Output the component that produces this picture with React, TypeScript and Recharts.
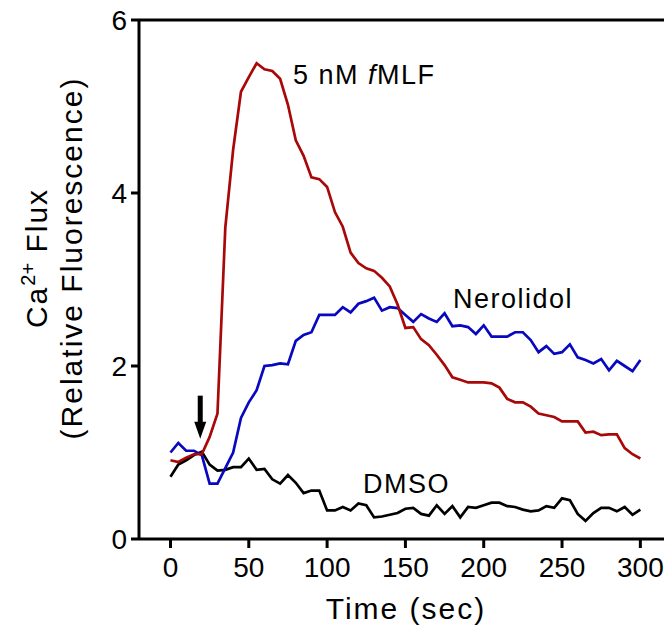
import { LineChart, Line, XAxis, YAxis, ReferenceLine, ReferenceDot, Label } from "recharts"

const time = [
  0, 5, 10, 15, 20, 25, 30, 35, 40, 45, 50, 55, 60, 65, 70, 75, 80, 85, 90, 95,
  100, 105, 110, 115, 120, 125, 130, 135, 140, 145, 150, 155, 160, 165, 170, 175, 180, 185, 190, 195,
  200, 205, 210, 215, 220, 225, 230, 235, 240, 245, 250, 255, 260, 265, 270, 275, 280, 285, 290, 295, 300,
]

const fmlf = [
  0.91, 0.89, 0.94, 0.98, 0.98, 1.18, 1.45, 3.6, 4.5, 5.17, 5.34, 5.5, 5.43, 5.41, 5.32, 5.02, 4.61, 4.43, 4.18, 4.16,
  4.07, 3.78, 3.61, 3.31, 3.19, 3.13, 3.1, 3.02, 2.92, 2.71, 2.44, 2.45, 2.31, 2.24, 2.13, 2.01, 1.87, 1.84, 1.81, 1.81,
  1.81, 1.8, 1.75, 1.62, 1.58, 1.58, 1.53, 1.45, 1.43, 1.41, 1.36, 1.36, 1.36, 1.23, 1.24, 1.2, 1.21, 1.21, 1.05, 0.98, 0.93,
]

const nerolidol = [
  1.0, 1.11, 1.02, 1.02, 0.97, 0.64, 0.64, 0.82, 1.0, 1.4, 1.58, 1.72, 2.0, 2.01, 2.03, 2.02, 2.29, 2.36, 2.39, 2.59,
  2.59, 2.59, 2.68, 2.62, 2.72, 2.75, 2.79, 2.64, 2.68, 2.67, 2.59, 2.51, 2.6, 2.55, 2.51, 2.61, 2.46, 2.47, 2.45, 2.37,
  2.47, 2.34, 2.34, 2.34, 2.39, 2.39, 2.3, 2.16, 2.23, 2.14, 2.16, 2.25, 2.1, 2.07, 2.03, 2.08, 1.95, 2.06, 2.0, 1.94, 2.07,
]

const dmso = [
  0.72, 0.86, 0.91, 0.97, 1.01, 0.86, 0.79, 0.8, 0.83, 0.83, 0.93, 0.8, 0.81, 0.69, 0.64, 0.74, 0.65, 0.53, 0.56, 0.56,
  0.33, 0.33, 0.37, 0.33, 0.41, 0.39, 0.25, 0.26, 0.28, 0.3, 0.35, 0.36, 0.29, 0.27, 0.39, 0.29, 0.38, 0.25, 0.37, 0.36,
  0.39, 0.42, 0.42, 0.38, 0.37, 0.34, 0.32, 0.33, 0.38, 0.36, 0.47, 0.45, 0.29, 0.21, 0.3, 0.36, 0.36, 0.32, 0.37, 0.28, 0.34,
]

const xTicks = [0, 50, 100, 150, 200, 250, 300]
const yTicks = [0, 2, 4, 6]

const font = "'Liberation Sans', Arial, sans-serif"

const data = time.map((t, i) => ({ t, fmlf: fmlf[i], nerolidol: nerolidol[i], dmso: dmso[i] }))

const annotate = (content: any, italicPart?: boolean) => (p: any) => (
  <text x={p.cx} y={p.cy} fontFamily={font} fontSize={27} letterSpacing={1.5} fill="#000">
    {content}
  </text>
)

const arrowShape = (p: any) => {
  const x = p.cx
  const y = p.cy
  return (
    <g>
      <rect x={x - 2.5} y={y - 43} width={5} height={27} fill="#000" />
      <polygon points={`${x - 6},${y - 17} ${x + 6},${y - 17} ${x},${y}`} fill="#000" />
    </g>
  )
}

export default function App() {
  return (
    <div style={{ position: "absolute", left: 0, top: 0, background: "#fff" }}>
      <LineChart width={664} height={629} data={data} margin={{ top: 20, right: 0, bottom: 0, left: 0 }}>
        <XAxis
          dataKey="t"
          type="number"
          domain={[-20.1, 315.1]}
          ticks={xTicks}
          allowDataOverflow
          height={90}
          axisLine={{ stroke: "#000", strokeWidth: 3 }}
          tickLine={{ stroke: "#000", strokeWidth: 3 }}
          tickSize={9}
          tickMargin={9}
          tick={{ fill: "#000", fontSize: 28, fontFamily: font }}
        >
          <Label
            content={() => (
              <text x={406} y={619} textAnchor="middle" fontFamily={font} fontSize={30} letterSpacing={2} fill="#000">
                Time (sec)
              </text>
            )}
          />
        </XAxis>
        <YAxis
          domain={[0, 6]}
          ticks={yTicks}
          width={139}
          axisLine={{ stroke: "#000", strokeWidth: 3 }}
          tickLine={{ stroke: "#000", strokeWidth: 3 }}
          tickSize={8}
          tickMargin={4}
          tick={{ fill: "#000", fontSize: 28, fontFamily: font }}
        >
          <Label
            content={() => (
              <g fontFamily={font} fontSize={30} letterSpacing={2} fill="#000">
                <text x={47} y={258} textAnchor="middle" transform="rotate(-90 47 258)">
                  Ca
                  <tspan dy={-12} fontSize={20} letterSpacing={0}>2+</tspan>
                  <tspan dy={12}> Flux</tspan>
                </text>
                <text x={82} y={258} textAnchor="middle" transform="rotate(-90 82 258)">
                  (Relative Fluorescence)
                </text>
              </g>
            )}
          />
        </YAxis>
        <ReferenceLine y={6} stroke="#000" strokeWidth={3} />
        <Line dataKey="dmso" stroke="#000000" strokeWidth={2.7} dot={false} isAnimationActive={false} strokeLinejoin="miter" />
        <Line dataKey="nerolidol" stroke="#0808C0" strokeWidth={2.7} dot={false} isAnimationActive={false} strokeLinejoin="miter" />
        <Line dataKey="fmlf" stroke="#A80808" strokeWidth={2.7} dot={false} isAnimationActive={false} strokeLinejoin="miter" />
        <ReferenceDot
          x={78.2}
          y={5.26}
          r={0}
          ifOverflow="visible"
          shape={(p: any) => (
            <text x={p.cx} y={p.cy} fontFamily={font} fontSize={27} letterSpacing={1.5} fill="#000">
              5 nM <tspan fontStyle="italic">f</tspan>MLF
            </text>
          )}
        />
        <ReferenceDot x={180.4} y={2.67} r={0} ifOverflow="visible" shape={annotate("Nerolidol")} />
        <ReferenceDot x={122.9} y={0.53} r={0} ifOverflow="visible" shape={annotate("DMSO")} />
        <ReferenceDot x={19} y={1.16} r={0} ifOverflow="visible" shape={arrowShape} />
      </LineChart>
    </div>
  )
}
